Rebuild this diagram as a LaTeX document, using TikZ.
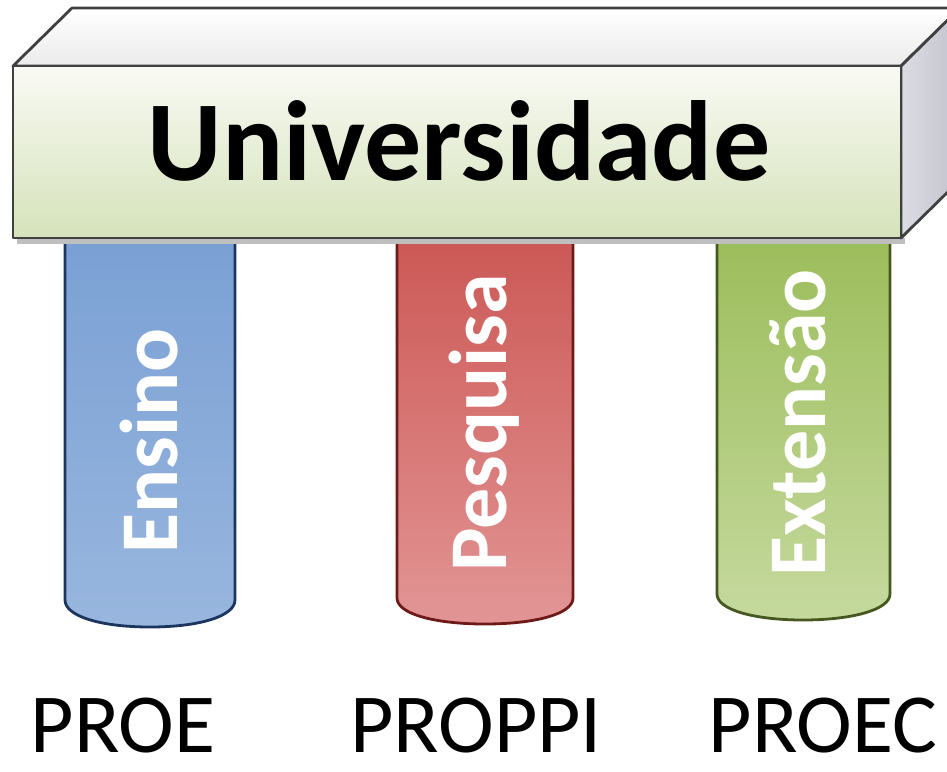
\documentclass[tikz,border=0pt]{standalone}
\usepackage{fontspec}
\setmainfont{Carlito}
\definecolor{azulA}{HTML}{7AA0D4}
\definecolor{azulB}{HTML}{4A7DC0}
\definecolor{azulC}{HTML}{98B6DE}
\definecolor{azulL}{HTML}{1C355E}
\definecolor{vermA}{HTML}{CC5855}
\definecolor{vermB}{HTML}{C0504D}
\definecolor{vermC}{HTML}{E29595}
\definecolor{vermL}{HTML}{6E1A18}
\definecolor{verdA}{HTML}{9CBD5B}
\definecolor{verdB}{HTML}{A4C266}
\definecolor{verdC}{HTML}{C5D99E}
\definecolor{verdL}{HTML}{46581F}
\definecolor{frenteA}{HTML}{F9FAF4}
\definecolor{frenteB}{HTML}{D5E2BA}
\definecolor{ladoA}{HTML}{DCDCE4}
\definecolor{ladoB}{HTML}{C2C2CC}
\begin{document}
\begin{tikzpicture}[x=0.5pt,y=-0.5pt,
	borda/.style={draw=black!75, line width=1.4pt, line join=round},
	pilar/.style={line width=1.4pt},
	pilartexto/.style={font=\fontsize{41}{49}\selectfont\bfseries, text=white, rotate=90, anchor=base},
	rotulo/.style={font=\fontsize{42}{50}\selectfont, anchor=base}]
	\useasboundingbox (0,0) rectangle (947,771);
	\clip (0,0) rectangle (947,771);
	
	% pilares
	\shade[pilar, draw=azulL, top color=azulA, middle color=azulB, bottom color=azulC]
		(65,236) -- (65,600) .. controls (65,616) and (100,627) .. (150,627) .. controls (200,627) and (235,616) .. (235,600) -- (235,236) -- cycle;
	\shade[pilar, draw=vermL, top color=vermA, middle color=vermB, bottom color=vermC]
		(397,236) -- (397,598) .. controls (397,614) and (435,624) .. (485,624) .. controls (535,624) and (573,614) .. (573,598) -- (573,236) -- cycle;
	\shade[pilar, draw=verdL, top color=verdA, middle color=verdB, bottom color=verdC]
		(717,236) -- (717,594) .. controls (717,610) and (755,620) .. (803,620) .. controls (851,620) and (890,610) .. (890,594) -- (890,236) -- cycle;
	
	\node[pilartexto] (ensino) at (177,441) {Ensino};
	\node[pilartexto] (pesquisa) at (506,423) {Pesquisa};
	\node[pilartexto] (extensao) at (825,423) {Extensão};
	
	% viga
	\fill[black!25] (17,238) rectangle (905,244);
	\shade[borda, top color=white, bottom color=white!92!black] (13,66) -- (72,8) -- (960,8) -- (901,66) -- cycle;
	\shade[borda, left color=ladoA, right color=ladoB] (901,66) -- (960,8) -- (960,180) -- (901,238) -- cycle;
	\shade[borda, top color=frenteA, bottom color=frenteB] (13,66) rectangle (901,238);
	
	\node[font=\fontsize{57}{68}\selectfont\bfseries, anchor=base] (universidade) at (459,180) {Universidade};
	
	% siglas
	\node[rotulo] (proe) at (123,752) {PROE};
	\node[rotulo] (proppi) at (476,752) {PROPPI};
	\node[rotulo] (proec) at (823,752) {PROEC};
\end{tikzpicture}
\end{document}
